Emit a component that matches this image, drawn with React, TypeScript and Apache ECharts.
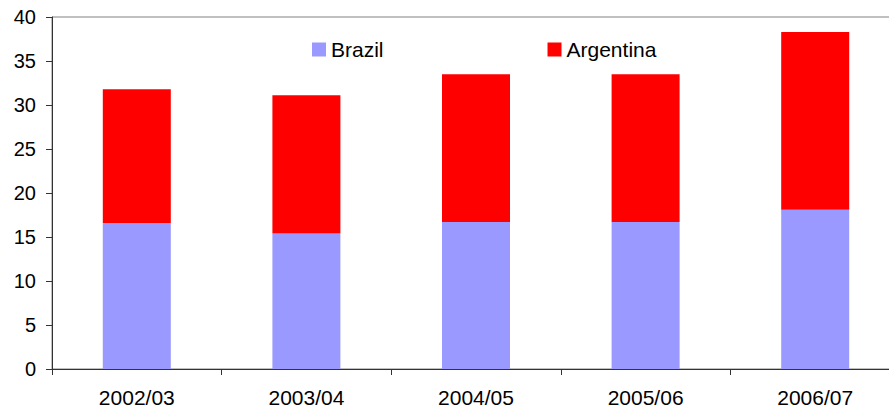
import React, { useEffect, useRef } from "react";
import * as echarts from "echarts";

const categories = ["2002/03", "2003/04", "2004/05", "2005/06", "2006/07"];
const brazil = [16.6, 15.4, 16.7, 16.7, 18.1];
const argentina = [15.2, 15.7, 16.8, 16.8, 20.2];
const seriesNames = ["Brazil", "Argentina"];
const FONT = "'Liberation Sans', Arial, sans-serif";

export default function App() {
  const ref = useRef<HTMLDivElement>(null);
  useEffect(() => {
    if (!ref.current) return;
    const chart = echarts.init(ref.current, undefined, { renderer: "svg" });
    chart.setOption({
      animation: false,
      textStyle: { fontFamily: FONT },
      grid: {
        left: 52,
        right: 0,
        top: 17,
        bottom: 40,
        show: true,
        borderColor: "#808080",
        borderWidth: 1,
        backgroundColor: "transparent",
      },
      legend: {
        left: 312,
        top: 39,
        padding: 0,
        itemWidth: 14,
        itemHeight: 14,
        itemGap: 164,
        icon: "rect",
        textStyle: { fontFamily: FONT, fontSize: 21, color: "#000" },
        data: seriesNames,
      },
      xAxis: {
        type: "category",
        data: categories,
        axisLine: { lineStyle: { color: "#333", width: 1 } },
        axisTick: { show: true, length: 6, lineStyle: { color: "#333" } },
        axisLabel: { fontFamily: FONT, fontSize: 21, color: "#000", margin: 18 },
      },
      yAxis: {
        type: "value",
        min: 0,
        max: 40,
        interval: 5,
        splitLine: { show: false },
        axisLine: { show: true, lineStyle: { color: "#333", width: 1 } },
        axisTick: { show: true, length: 6, lineStyle: { color: "#333" } },
        axisLabel: { fontFamily: FONT, fontSize: 20, color: "#000", margin: 16 },
      },
      series: [
        {
          name: seriesNames[0],
          type: "bar",
          stack: "total",
          data: brazil,
          barWidth: 68,
          itemStyle: { color: "#9999FF" },
        },
        {
          name: seriesNames[1],
          type: "bar",
          stack: "total",
          data: argentina,
          barWidth: 68,
          itemStyle: { color: "#FF0000" },
        },
      ],
    });
    return () => chart.dispose();
  }, []);
  return (
    <div style={{ position: "fixed", left: 0, top: 0, width: 889, height: 409, overflow: "hidden", background: "#fff" }}>
      <div ref={ref} style={{ width: 900, height: 409 }} />
    </div>
  );
}
